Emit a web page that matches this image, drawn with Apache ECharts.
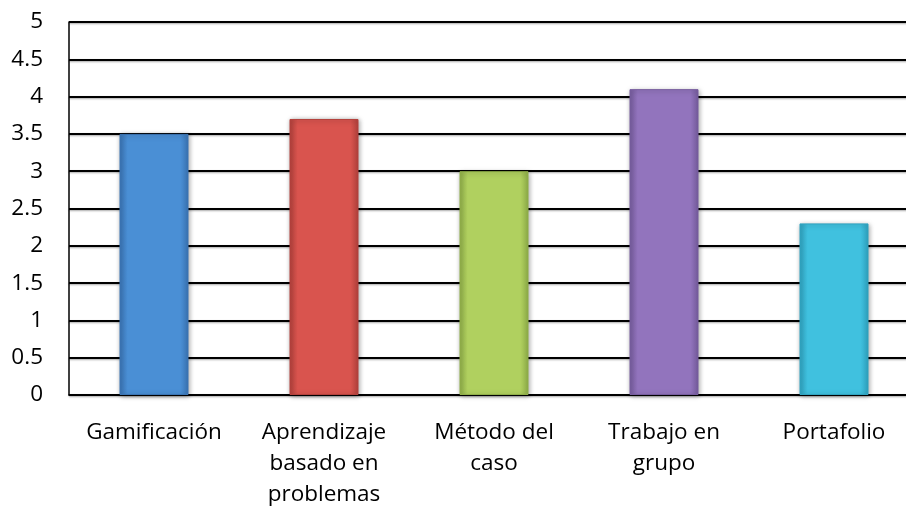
<!DOCTYPE html>
<html>
<head>
<meta charset="utf-8">
<script src="https://cdn.jsdelivr.net/npm/echarts@6/dist/echarts.min.js"></script>
<style>
  html, body { margin: 0; padding: 0; background: #fff; }
  #chart { width: 906px; height: 506px; }
</style>
</head>
<body>
<div id="chart"></div>
<script>
var categories = ['Gamificación', 'Aprendizaje\nbasado en\nproblemas', 'Método del\ncaso', 'Trabajo en\ngrupo', 'Portafolio'];
var values = [3.5, 3.7, 3.0, 4.1, 2.3];
var yTicks = [0, 0.5, 1, 1.5, 2, 2.5, 3, 3.5, 4, 4.5, 5];
// base, light, dark per bar
var palette = [
  ['#4a8fd5', '#5fa3e6', '#3a74b4'],
  ['#d9544e', '#e86a62', '#b3413c'],
  ['#b0d05f', '#c6e476', '#8fae48'],
  ['#9274bd', '#a68ad0', '#765c9e'],
  ['#40c1df', '#5ad3ef', '#2fa3c0']
];

function barColor(c) {
  return new echarts.graphic.LinearGradient(0, 0, 1, 0, [
    { offset: 0, color: c[2] },
    { offset: 0.12, color: c[0] },
    { offset: 0.5, color: c[0] },
    { offset: 0.88, color: c[0] },
    { offset: 1, color: c[2] }
  ]);
}

var chart = echarts.init(document.getElementById('chart'));
chart.setOption({
  animation: false,
  grid: { left: 69, top: 22, width: 850, height: 373, outerBoundsMode: 'none', containLabel: false },
  xAxis: {
    type: 'category',
    data: categories,
    axisLine: { lineStyle: { color: '#000', width: 1.5 } },
    axisTick: { show: false },
    axisLabel: {
      color: '#000',
      fontFamily: 'Open Sans',
      fontSize: 22.5,
      lineHeight: 31,
      margin: 22,
      interval: 0
    }
  },
  yAxis: {
    type: 'value',
    min: yTicks[0],
    max: yTicks[yTicks.length - 1],
    interval: 0.5,
    axisLine: { show: true, lineStyle: { color: '#000', width: 1.5 } },
    axisTick: { show: false },
    axisLabel: {
      color: '#000',
      fontFamily: 'Open Sans',
      fontSize: 22.5,
      margin: 26
    },
    splitLine: { lineStyle: { color: '#000', width: 2, shadowColor: 'rgba(0,0,0,0.35)', shadowBlur: 2, shadowOffsetY: 1 } }
  },
  series: [{
    type: 'bar',
    barWidth: 69,
    data: values.map(function (v, i) {
      return {
        value: v,
        itemStyle: {
          color: barColor(palette[i]),
          borderColor: palette[i][2],
          borderWidth: 1,
          shadowColor: 'rgba(0,0,0,0.35)',
          shadowBlur: 5,
          shadowOffsetX: 1,
          shadowOffsetY: 1
        }
      };
    })
  }]
});
</script>
</body>
</html>
